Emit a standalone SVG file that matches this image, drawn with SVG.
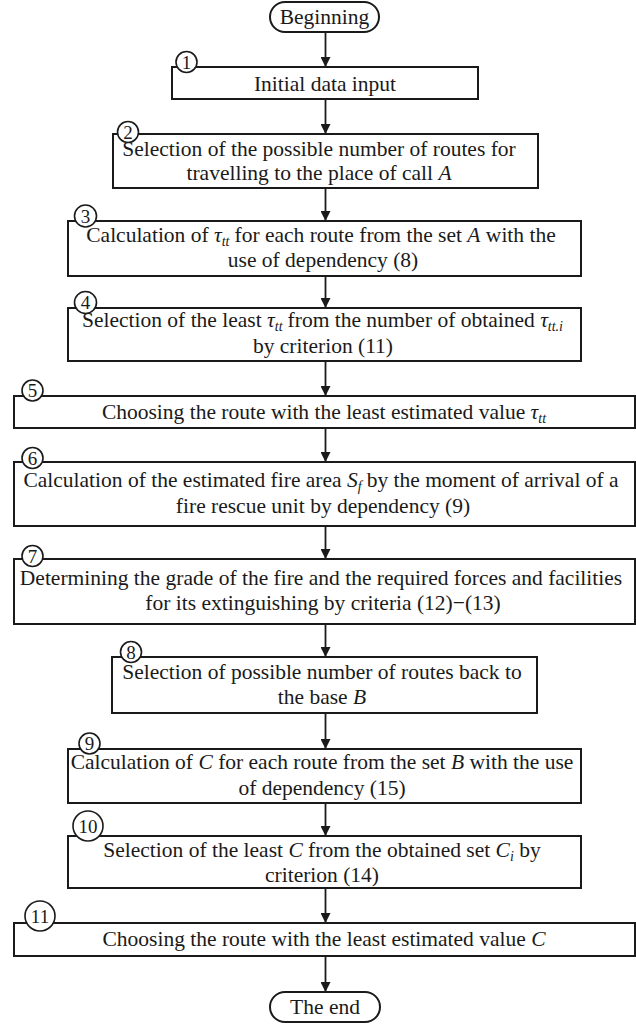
<svg xmlns="http://www.w3.org/2000/svg" width="636" height="1025" viewBox="0 0 636 1025">
<style>
.box{fill:#fff;stroke:#1a1a1a;stroke-width:2}
.pill{fill:#fff;stroke:#1a1a1a;stroke-width:2}
.num{fill:#fff;stroke:#1a1a1a;stroke-width:1.6}
.t{font-family:"Liberation Serif","Times New Roman",serif;font-size:21.5px;fill:#1a1a1a;text-anchor:middle}
.n{font-family:"Liberation Serif","Times New Roman",serif;font-size:19px;fill:#1a1a1a;text-anchor:middle}
.i{font-style:italic}
.s{font-style:italic;font-size:14px}
.con{stroke:#1a1a1a;stroke-width:1.8;fill:none;marker-end:url(#ah)}
</style>
<defs>
<marker id="ah" viewBox="0 0 10 10" refX="10" refY="5" markerWidth="10" markerHeight="10" markerUnits="userSpaceOnUse" orient="auto">
<path d="M0,0 L10,5 L0,10 Z" fill="#1a1a1a"/>
</marker>
</defs>
<rect width="636" height="1025" fill="#fff"/>
<g id="connectors">
<line class="con" x1="325.5" y1="32" x2="325.5" y2="67"/>
<line class="con" x1="325.5" y1="99" x2="325.5" y2="134"/>
<line class="con" x1="325.5" y1="188" x2="325.5" y2="221"/>
<line class="con" x1="325.5" y1="276" x2="325.5" y2="308"/>
<line class="con" x1="325.5" y1="361" x2="325.5" y2="396"/>
<line class="con" x1="325.5" y1="428" x2="325.5" y2="462"/>
<line class="con" x1="325.5" y1="526" x2="325.5" y2="559"/>
<line class="con" x1="325.5" y1="624" x2="325.5" y2="657"/>
<line class="con" x1="325.5" y1="713" x2="325.5" y2="749"/>
<line class="con" x1="325.5" y1="803" x2="325.5" y2="836"/>
<line class="con" x1="325.5" y1="888" x2="325.5" y2="923"/>
<line class="con" x1="325.5" y1="956" x2="325.5" y2="992"/>
</g>
<g id="start">
<rect class="pill" x="270" y="2" width="109" height="30" rx="15"/>
<text class="t" x="324.5" y="24">Beginning</text>
</g>
<g id="step1">
<rect class="box" x="172" y="67" width="306" height="32"/>
<circle class="num" cx="186.5" cy="62" r="10.5"/>
<text class="n" x="186.5" y="68.5">1</text>
<text class="t" x="325" y="91">Initial data input</text>
</g>
<g id="step2">
<rect class="box" x="113" y="134" width="425" height="54"/>
<circle class="num" cx="128" cy="132" r="10.5"/>
<text class="n" x="128" y="138.5">2</text>
<text class="t" x="319" y="156">Selection of the possible number of routes for</text>
<text class="t" x="319" y="180">travelling to the place of call <tspan class="i">A</tspan></text>
</g>
<g id="step3">
<rect class="box" x="68" y="221" width="513" height="55"/>
<circle class="num" cx="85.5" cy="216" r="11"/>
<text class="n" x="85.5" y="222.5">3</text>
<text class="t" x="321" y="242">Calculation of <tspan class="i">τ</tspan><tspan class="s" dy="4">tt</tspan><tspan dy="-4" dx="5">for each route from the set </tspan><tspan class="i">A</tspan> with the</text>
<text class="t" x="323" y="267">use of dependency (8)</text>
</g>
<g id="step4">
<rect class="box" x="68" y="308" width="513" height="53"/>
<circle class="num" cx="85.5" cy="302.5" r="11"/>
<text class="n" x="85.5" y="309">4</text>
<text class="t" x="322.5" y="327">Selection of the least <tspan class="i">τ</tspan><tspan class="s" dy="4">tt</tspan><tspan dy="-4" dx="5">from the number of obtained </tspan><tspan class="i">τ</tspan><tspan class="s" dy="4">tt.i</tspan></text>
<text class="t" x="323" y="353">by criterion (11)</text>
</g>
<g id="step5">
<rect class="box" x="14" y="396" width="621" height="32"/>
<circle class="num" cx="32.5" cy="390.5" r="10.5"/>
<text class="n" x="32.5" y="397">5</text>
<text class="t" x="324" y="419">Choosing the route with the least estimated value <tspan class="i">τ</tspan><tspan class="s" dy="4">tt</tspan></text>
</g>
<g id="step6">
<rect class="box" x="14" y="462" width="621" height="64"/>
<circle class="num" cx="32.5" cy="458" r="10.5"/>
<text class="n" x="32.5" y="464.5">6</text>
<text class="t" x="321" y="487">Calculation of the estimated fire area <tspan class="i">S</tspan><tspan class="s" dy="4">f</tspan><tspan dy="-4" dx="5">by the moment of arrival of a</tspan></text>
<text class="t" x="323" y="513">fire rescue unit by dependency (9)</text>
</g>
<g id="step7">
<rect class="box" x="14" y="559" width="621" height="65"/>
<circle class="num" cx="32.5" cy="556" r="10.5"/>
<text class="n" x="32.5" y="562.5">7</text>
<text class="t" x="321" y="585">Determining the grade of the fire and the required forces and facilities</text>
<text class="t" x="323" y="610">for its extinguishing by criteria (12)−(13)</text>
</g>
<g id="step8">
<rect class="box" x="112" y="657" width="425" height="56"/>
<circle class="num" cx="131" cy="652" r="10.5"/>
<text class="n" x="131" y="658.5">8</text>
<text class="t" x="322" y="679">Selection of possible number of routes back to</text>
<text class="t" x="322" y="704">the base <tspan class="i">B</tspan></text>
</g>
<g id="step9">
<rect class="box" x="68" y="749" width="513" height="54"/>
<circle class="num" cx="89.5" cy="743.5" r="10.5"/>
<text class="n" x="89.5" y="750">9</text>
<text class="t" x="322" y="769">Calculation of <tspan class="i">C</tspan> for each route from the set <tspan class="i">B</tspan> with the use</text>
<text class="t" x="322" y="795">of dependency (15)</text>
</g>
<g id="step10">
<rect class="box" x="68" y="836" width="513" height="52"/>
<circle class="num" cx="88" cy="826" r="15"/>
<text class="n" x="88" y="832.5">10</text>
<text class="t" x="322" y="857">Selection of the least <tspan class="i">C</tspan> from the obtained set <tspan class="i">C</tspan><tspan class="s" dy="4">i</tspan><tspan dy="-4"> by</tspan></text>
<text class="t" x="322" y="882">criterion (14)</text>
</g>
<g id="step11">
<rect class="box" x="14" y="923" width="621" height="33"/>
<circle class="num" cx="40" cy="916" r="15"/>
<text class="n" x="40" y="922.5">11</text>
<text class="t" x="324" y="946">Choosing the route with the least estimated value <tspan class="i">C</tspan></text>
</g>
<g id="end">
<rect class="pill" x="270" y="992" width="110" height="30" rx="15"/>
<text class="t" x="325" y="1014">The end</text>
</g>
</svg>
